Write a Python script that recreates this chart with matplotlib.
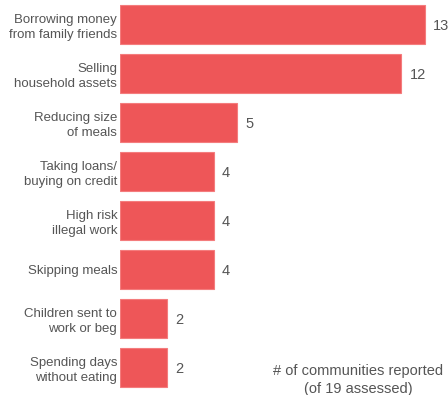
import numpy as np
import matplotlib
matplotlib.use('Agg')
from matplotlib import pyplot as plt

plt.rcParams['font.family'] = ['Liberation Sans', 'DejaVu Sans']

labels = ['Borrowing money\nfrom family friends', 'Selling\nhousehold assets',
          'Reducing size\nof meals', 'Taking loans/\nbuying on credit',
          'High risk\nillegal work', 'Skipping meals',
          'Children sent to\nwork or beg', 'Spending days\nwithout eating']
values = [13, 12, 5, 4, 4, 4, 2, 2]

fig = plt.figure(figsize=(4.48, 3.95), dpi=100)
ax = fig.add_axes([120/448, 3/395, 328/448, 392/395])

y = np.arange(len(values))
ax.barh(y, values, height=0.8, color='#EE5658', edgecolor='#F47C7D', linewidth=0.8)
ax.set_ylim(len(values) - 0.5, -0.5)
ax.set_xlim(0, 14)

for yi, v in zip(y, values):
    ax.annotate(str(v), (v, yi), xytext=(6, -1), textcoords='offset points',
                va='center', ha='left', fontsize=10.5, color='#555555')

ax.set_yticks(y)
ax.set_yticklabels(labels, fontsize=9.5, color='#555555', linespacing=1.3)
ax.tick_params(axis='y', length=0, pad=2)
ax.set_xticks([])
for s in ax.spines.values():
    s.set_visible(False)

fig.text(358/448, 1 - 380/395, '# of communities reported\n(of 19 assessed)',
         ha='center', va='center', fontsize=10.5, color='#555555', linespacing=1.3)

fig.savefig('out.png', dpi=100)
